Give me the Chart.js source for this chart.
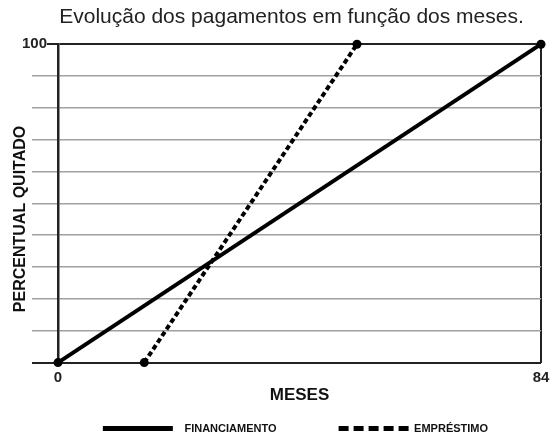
<!DOCTYPE html>
<html><head><meta charset="utf-8">
<script src="https://cdn.jsdelivr.net/npm/chart.js@4"></script>
<style>html,body{margin:0;padding:0;background:#fff;}#wrap{width:553px;height:436px;}</style>
</head><body><div id="wrap"><canvas id="c" width="553" height="436"></canvas></div>
<script>
const seriesNames = ["FINANCIAMENTO", "EMPRÉSTIMO"];
const financiamentoMeses = [0, 84];
const financiamentoPct = [0, 100];
const emprestimoMeses = [15, 52];
const emprestimoPct = [0, 100];
const xTickValues = [0, 84];
const yTickLabels = {100: "100"};

const toPts = (xs, ys) => xs.map((x, i) => ({x: x, y: ys[i]}));
const FONT = "'Liberation Sans', Arial, sans-serif";
const isEdge = (v) => v === 0 || v === 100;

new Chart(document.getElementById('c'), {
  type: 'line',
  data: {
    datasets: [
      {label: seriesNames[0], data: toPts(financiamentoMeses, financiamentoPct),
       borderColor: '#000', backgroundColor: '#000', borderWidth: 4, clip: false,
       pointRadius: 4.5, pointBackgroundColor: '#000', pointBorderWidth: 0, tension: 0},
      {label: seriesNames[1], data: toPts(emprestimoMeses, emprestimoPct),
       borderColor: '#000', backgroundColor: '#000', borderWidth: 4, borderDash: [5, 3], clip: false,
       pointRadius: 4.5, pointBackgroundColor: '#000', pointBorderWidth: 0, tension: 0}
    ]
  },
  options: {
    responsive: false, animation: false,
    layout: {padding: {left: 4, right: 9, top: 0, bottom: -8}},
    plugins: {
      title: {display: true, text: '      Evolução dos pagamentos em função dos meses.',
        color: '#222', font: {family: FONT, size: 21, weight: 'normal'}, padding: {top: 5, bottom: 14}},
      legend: {position: 'bottom', align: 'end',
        labels: {usePointStyle: true, pointStyleWidth: 70, boxHeight: 10, padding: 4,
          color: '#111', font: {family: FONT, size: 11, weight: 'bold'},
          generateLabels: (chart) => chart.data.datasets.map((d, i) => ({
            text: i === 0 ? '  ' + d.label + '                   ' : d.label + '                 ',
            pointStyle: 'line', lineWidth: 5,
            lineDash: i === 0 ? [] : [10, 5], strokeStyle: '#000', fillStyle: '#000',
            fontColor: '#111', datasetIndex: i, hidden: false
          }))}},
      tooltip: {enabled: false}
    },
    scales: {
      x: {type: 'linear', min: 0, max: 84,
        afterBuildTicks: (s) => { s.ticks = xTickValues.map(v => ({value: v})); },
        afterFit: (s) => { s.paddingRight = 12; s.paddingLeft = 0; },
        ticks: {color: '#222', font: {family: FONT, size: 15, weight: 'bold'}, padding: 6, maxRotation: 0},
        grid: {color: '#222', lineWidth: 2, drawTicks: false},
        border: {display: false},
        title: {display: true, text: 'MESES', color: '#111', font: {family: FONT, size: 17, weight: 'bold'}, padding: {top: -7, bottom: 13}}
      },
      y: {type: 'linear', min: 0, max: 100,
        afterFit: (s) => { s.width = 54; },
        ticks: {stepSize: 10, color: '#222', font: {family: FONT, size: 15, weight: 'bold'}, padding: -15,
          showLabelBackdrop: (c) => c.tick && c.tick.value === 100, backdropColor: '#fff', backdropPadding: 0,
          callback: (v) => yTickLabels[v] || ''},
        grid: {color: (c) => isEdge(c.tick.value) ? '#222' : '#a0a0a0',
          lineWidth: (c) => isEdge(c.tick.value) ? 2 : 1.5,
          tickColor: (c) => isEdge(c.tick.value) ? '#222' : '#a0a0a0',
          tickLength: 26},
        border: {display: true, color: '#222', width: 2.5},
        title: {display: true, text: 'PERCENTUAL QUITADO       ', color: '#111', font: {family: FONT, size: 16, weight: 'bold'}, padding: {top: 7, bottom: 0}}
      }
    }
  }
});
</script></body></html>
